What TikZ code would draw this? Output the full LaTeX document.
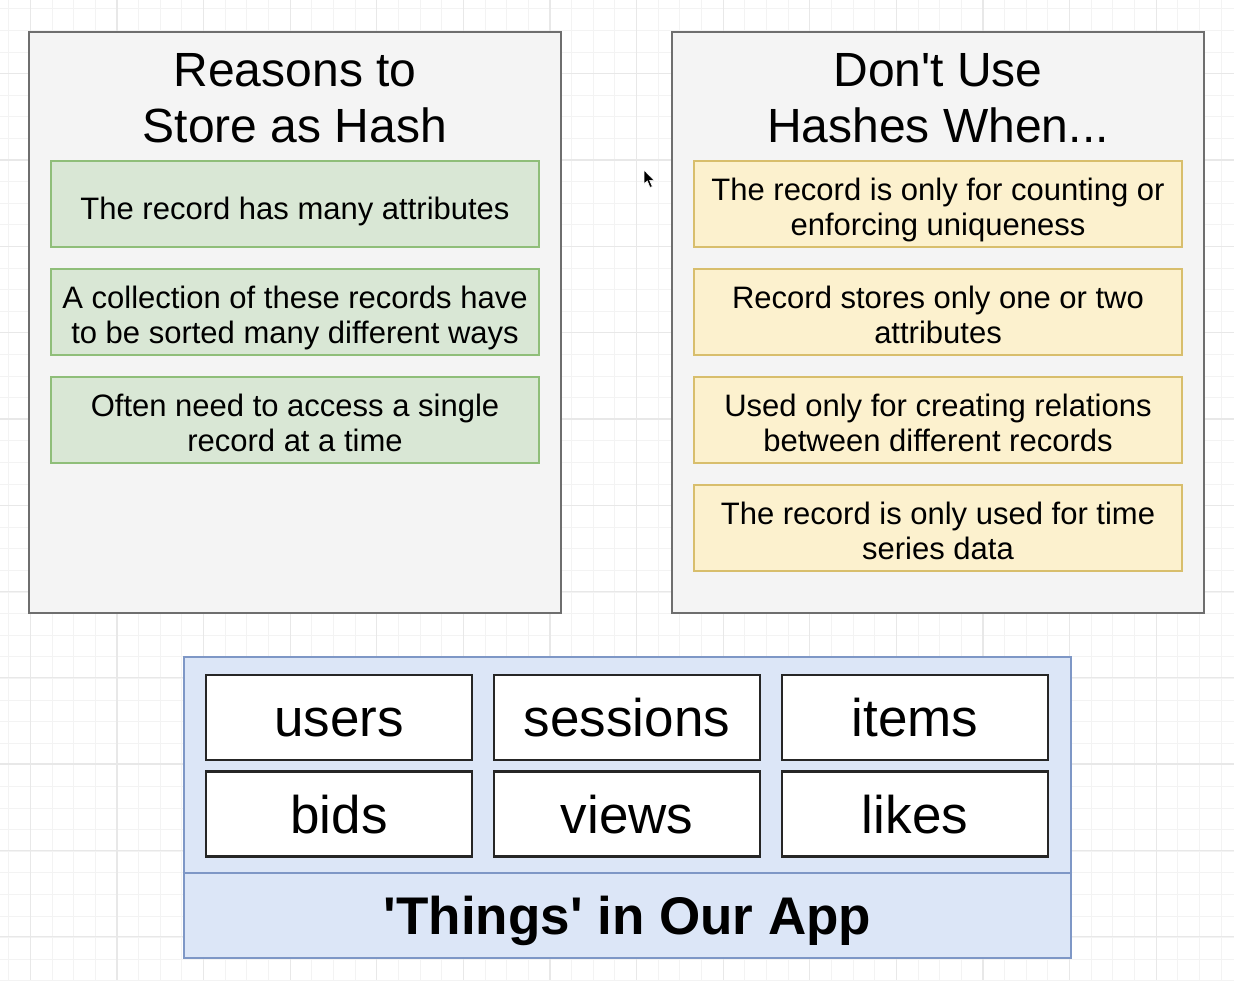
\documentclass[tikz,border=0pt]{standalone}
\usepackage{fontspec}
\setmainfont{Liberation Sans}[Ligatures=TeXOff]
\definecolor{panelfill}{HTML}{F4F4F4}
\definecolor{panelline}{HTML}{6E6E6E}
\definecolor{greenfill}{HTML}{D9E7D5}
\definecolor{greenline}{HTML}{8FBE79}
\definecolor{yellowfill}{HTML}{FCF1CE}
\definecolor{yellowline}{HTML}{D8BE6C}
\definecolor{bluefill}{HTML}{DCE6F7}
\definecolor{blueline}{HTML}{7E97C6}
\definecolor{gridminor}{HTML}{F3F3F3}
\definecolor{gridmajor}{HTML}{E8E8E8}
\tikzset{
  panel/.style={draw=panelline, fill=panelfill, line width=2pt},
  title/.style={align=center, font=\fontsize{48}{56}\selectfont, inner sep=0pt},
  greenbox/.style={draw=greenline, fill=greenfill, line width=2pt, minimum width=488pt, minimum height=86pt, inner sep=0pt},
  yellowbox/.style={draw=yellowline, fill=yellowfill, line width=2pt, minimum width=488pt, minimum height=86pt, inner sep=0pt},
  boxtext/.style={align=center, font=\fontsize{31}{35}\selectfont, inner sep=0pt, yshift=-8pt, execute at begin node=\strut, execute at end node=\strut},
  thingbox/.style={draw=black!85, fill=white, line width=2.5pt, minimum width=266pt, minimum height=85pt, font=\fontsize{53}{58}\selectfont, inner sep=0pt, text height=38pt, text depth=0pt},
  gridl/.style={draw=gridminor, line width=1pt},
  gridL/.style={draw=gridmajor, line width=1.3pt}
}
\begin{document}
\begin{tikzpicture}[x=1pt,y=-1pt]
\useasboundingbox[fill=white] (0,0) rectangle (1234,980);
% grid
\foreach \k in {-5,...,51} {
  \pgfmathsetmacro\xx{117+21.65*\k}
  \draw[gridl] (\xx,0) -- (\xx,980);
}
\foreach \k in {-7,...,38} {
  \pgfmathsetmacro\yy{160+21.6*\k}
  \draw[gridl] (0,\yy) -- (1234,\yy);
}
\foreach \k in {-1,...,12} {
  \pgfmathsetmacro\xx{117+86.6*\k}
  \draw[gridL] (\xx,0) -- (\xx,980);
}
\foreach \k in {-1,...,9} {
  \pgfmathsetmacro\yy{160+86.3*\k}
  \draw[gridL] (0,\yy) -- (1234,\yy);
}
% left panel
\node[panel, minimum width=532pt, minimum height=581pt, inner sep=0pt] (lp) at (295,322.5) {};
\node[title] (lt) at (295,98) {Reasons to\\Store as Hash};
\node[greenbox] (g1) at (295,204) {};
\node[boxtext] (g1t) at (g1.center) {The record has many attributes};
\node[greenbox] (g2) at (295,312) {};
\node[boxtext] (g2t) at (g2.center) {A collection of these records have\\to be sorted many different ways};
\node[greenbox] (g3) at (295,420) {};
\node[boxtext] (g3t) at (g3.center) {Often need to access a single\\record at a time};
% right panel
\node[panel, minimum width=532pt, minimum height=581pt, inner sep=0pt] (rp) at (938,322.5) {};
\node[title] (rt) at (938,98) {Don't Use\\Hashes When...};
\node[yellowbox] (y1) at (938,204) {};
\node[boxtext] (y1t) at (y1.center) {The record is only for counting or\\enforcing uniqueness};
\node[yellowbox] (y2) at (938,312) {};
\node[boxtext] (y2t) at (y2.center) {Record stores only one or two\\attributes};
\node[yellowbox] (y3) at (938,420) {};
\node[boxtext] (y3t) at (y3.center) {Used only for creating relations\\between different records};
\node[yellowbox] (y4) at (938,528) {};
\node[boxtext] (y4t) at (y4.center) {The record is only used for time\\series data};
% bottom container
\node[draw=blueline, fill=bluefill, line width=2pt, minimum width=887pt, minimum height=216pt, inner sep=0pt] (bc) at (627.5,765) {};
\node[draw=blueline, fill=bluefill, line width=2pt, minimum width=887pt, minimum height=85pt, inner sep=0pt, text height=38pt, text depth=0pt, font=\bfseries\fontsize{53}{58}\selectfont] (bl) at (627.5,915.5) {'Things' in Our App};
\node[thingbox] (t1) at (339,717.5) {users};
\node[thingbox] (t2) at (627,717.5) {sessions};
\node[thingbox] (t3) at (915,717.5) {items};
\node[thingbox] (t4) at (339,814) {bids};
\node[thingbox] (t5) at (627,814) {views};
\node[thingbox] (t6) at (915,814) {likes};
% mouse cursor
\fill[black, draw=white, line width=0.6pt] (644,170) -- (644,184) -- (647.3,181) -- (650,187.5) -- (652.3,186.5) -- (649.6,180.3) -- (654,180.3) -- cycle;
\end{tikzpicture}
\end{document}
